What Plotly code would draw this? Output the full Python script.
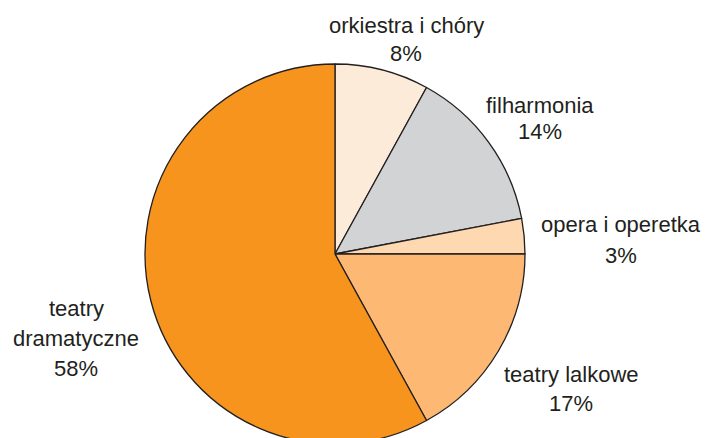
import plotly.graph_objects as go

# Shares of cultural institutions (clockwise from 12 o'clock)
categories = ["orkiestra i chóry", "filharmonia", "opera i operetka",
              "teatry lalkowe", "teatry dramatyczne"]
shares = [8, 14, 3, 17, 58]
label_lines = [["orkiestra i chóry"], ["filharmonia"], ["opera i operetka"],
               ["teatry lalkowe"], ["teatry", "dramatyczne"]]
colors = ["#FDEBD9", "#D1D3D4", "#FDD8B0", "#FDB874", "#F7941D"]

W, H = 705, 460
cx, cy, r = 335, 254, 190  # pie centre / radius in pixels from top-left

fig = go.Figure(go.Pie(
    labels=categories,
    values=shares,
    sort=False,
    direction="clockwise",
    rotation=0,
    textinfo="none",
    hoverinfo="label+percent",
    marker=dict(colors=colors, line=dict(color="#231F20", width=1.3)),
    domain=dict(x=[(cx - r) / W, (cx + r) / W],
                y=[(H - (cy + r)) / H, (H - (cy - r)) / H]),
))

# label anchor points (pixel centre of first text line) and line pitch
anchors = [(406, 25), (540, 105), (621, 225), (571, 374), (76, 308)]
pitch = [28, 26, 30, 29, 30]

ann = []
for lines, val, (ax, ay), p in zip(label_lines, shares, anchors, pitch):
    for i, t in enumerate(lines + [f"{val}%"]):
        ann.append(dict(
            x=ax / W, y=1 - (ay + i * p) / H, xref="paper", yref="paper",
            text=t, showarrow=False, xanchor="center", yanchor="middle",
            font=dict(family="Liberation Sans, Arial, sans-serif",
                      size=22, color="#231F20"),
        ))

fig.update_layout(
    width=W, height=H,
    margin=dict(l=0, r=0, t=0, b=0),
    paper_bgcolor="white", plot_bgcolor="white",
    showlegend=False,
    annotations=ann,
)

fig.write_html("out.html")
